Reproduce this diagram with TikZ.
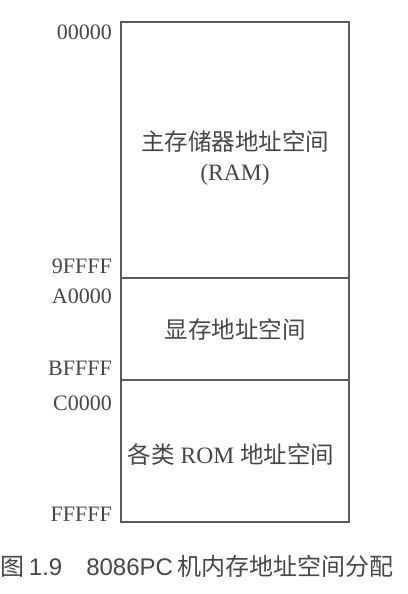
\documentclass[tikz,border=0pt]{standalone}
\usepackage{fontspec}
\setmainfont{Liberation Serif}
\newfontfamily\cjk{Noto Sans CJK SC}
\newfontfamily\capfont{Liberation Sans}
\usepackage{tikz}
\usetikzlibrary{positioning}
\usepackage{xcolor}
\definecolor{inkgray}{RGB}{70,70,70}
\definecolor{linegray}{RGB}{90,90,90}

\begin{document}
\begin{tikzpicture}[x=1pt, y=-1pt,
    region/.style={draw=linegray, line width=1.2pt, minimum width=228pt,
                   inner sep=0pt, outer sep=0pt},
    addr/.style={inner sep=0pt, text=inkgray,
                 font=\fontsize{22}{26}\selectfont},
    inside/.style={inner sep=0pt, text=inkgray, align=center,
                   font=\fontsize{23.5}{30}\selectfont},
    caption/.style={inner sep=0pt, text=inkgray,
                    font=\capfont\fontsize{24}{28}\selectfont}]
  \useasboundingbox (0,0) rectangle (407,594);

  % Memory regions
  \node[region, minimum height=256pt, anchor=north west] (ram) at (121,22) {};
  \node[region, minimum height=102pt, below=0pt of ram] (vram) {};
  \node[region, minimum height=142pt, below=0pt of vram] (rom) {};

  % Region names
  \node[inside] (ramtxt) at ([yshift=-8pt]ram.center)
    {{\cjk 主存储器地址空间}\\(RAM)};
  \node[inside] (vramtxt) at (vram.center) {\cjk 显存地址空间};
  \node[inside] (romtxt) at ([xshift=-4pt,yshift=-4pt]rom.center)
    {{\cjk 各类} ROM {\cjk 地址空间}};

  % Address labels
  \node[addr, anchor=base east] (a0) at ([xshift=-9pt,yshift=-18pt]ram.north west) {00000};
  \node[addr, anchor=base east] (a1) at ([xshift=-9pt,yshift=5pt]ram.south west) {9FFFF};
  \node[addr, anchor=base east] (a2) at ([xshift=-9pt,yshift=-25pt]vram.north west) {A0000};
  \node[addr, anchor=base east] (a3) at ([xshift=-9pt,yshift=5pt]vram.south west) {BFFFF};
  \node[addr, anchor=base east] (a4) at ([xshift=-9pt,yshift=-30pt]rom.north west) {C0000};
  \node[addr, anchor=base east] (a5) at ([xshift=-9pt,yshift=1pt]rom.south west) {FFFFF};

  % Caption
  \node[caption] (cap) at (197,566)
    {{\cjk 图}\,1.9\hspace{1em}8086PC\,{\cjk 机内存地址空间分配}};
\end{tikzpicture}
\end{document}
